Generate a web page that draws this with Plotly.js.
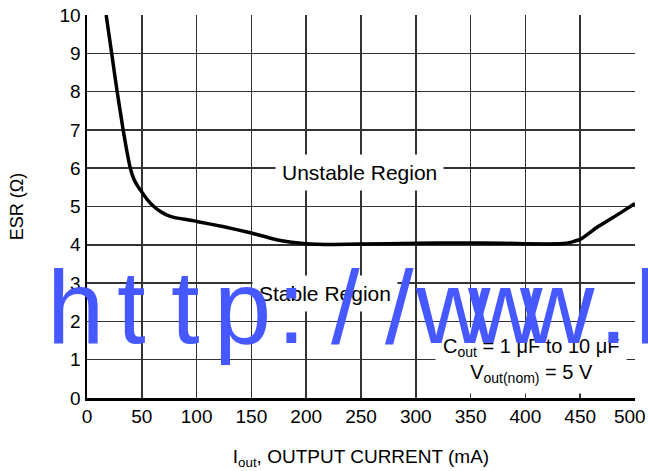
<!DOCTYPE html>
<html>
<head>
<meta charset="utf-8">
<script src="https://cdn.plot.ly/plotly-3.0.1.min.js"></script>
<style>html,body{margin:0;padding:0;background:#fff;}#chart{width:648px;height:471px;}</style>
</head>
<body>
<div id="chart"></div>
<script>
var currentMA = [17.5, 22.5, 27.5, 33, 36, 39.5, 43, 47, 50, 55, 61, 67, 72, 80, 93, 100, 125, 148, 175, 200, 225, 250, 300, 340, 380, 420, 437, 450, 465, 486, 500];
var esrOhm = [10, 9, 8, 7, 6.5, 6, 5.7, 5.5, 5.38, 5.18, 5.0, 4.87, 4.79, 4.71, 4.65, 4.61, 4.47, 4.32, 4.12, 4.03, 4.01, 4.02, 4.04, 4.05, 4.04, 4.02, 4.04, 4.14, 4.45, 4.82, 5.08];
var xTicks = [0, 50, 100, 150, 200, 250, 300, 350, 400, 450, 500];
var xTickLabels = ["0", "50", "100", "150", "200", "250", "300", "350", "400", "450", "500\u00A0\u00A0"];
var yTicks = [0, 1, 2, 3, 4, 5, 6, 7, 8, 9, 10];
var regionLabels = ["Unstable Region", "Stable Region"];
var regionX = [249, 217];
var regionY = [5.9, 2.72];
var condText = "C<sub>out</sub> = 1 \u03BCF to 10 \u03BCF<br>V<sub>out(nom)</sub> = 5 V";
var watermark = "http://www.l";

// layout: pixel centres of the watermark glyphs (page coordinates)
var wmCentersPx = [75, 131, 185, 242, 291, 345, 399, 453, 505, 557, 613, 646];
var plotLeft = 87, plotWidth = 548;

var font = "Liberation Sans, Arial, Helvetica, sans-serif";
var annotations = [];
for (var i = 0; i < regionLabels.length; i++) {
  annotations.push({x: regionX[i], y: regionY[i], xref: 'x', yref: 'y', text: regionLabels[i],
    showarrow: false, bgcolor: '#ffffff', borderpad: 6, font: {family: font, size: 21, color: '#000'}});
}
annotations.push({x: 405, y: 0.98, xref: 'x', yref: 'y', text: condText, showarrow: false,
  bgcolor: '#ffffff', borderpad: 7, font: {family: font, size: 20, color: '#000'}});
var wmChars = watermark.split('');
for (var k = 0; k < wmChars.length; k++) {
  annotations.push({x: (wmCentersPx[k] - plotLeft) / plotWidth, y: 0.235, xref: 'paper', yref: 'paper',
    xanchor: 'center', yanchor: 'middle', text: wmChars[k], showarrow: false,
    font: {family: 'Liberation Sans Narrow, Arial Narrow, Liberation Sans, sans-serif', size: 103, color: '#4658ff'}});
}

var trace = {x: currentMA, y: esrOhm, type: 'scatter', mode: 'lines',
  line: {color: '#000', width: 3.5, shape: 'spline', smoothing: 0.4}, hoverinfo: 'skip'};

var layout = {
  width: 648, height: 471,
  margin: {l: 87, r: 13, t: 15, b: 73},
  paper_bgcolor: '#fff', plot_bgcolor: '#fff',
  showlegend: false,
  font: {family: font, color: '#000'},
  xaxis: {range: [0, 500], tickvals: xTicks, ticktext: xTickLabels, showgrid: true,
    gridcolor: '#333', gridwidth: 1.5, showline: true, linecolor: '#000', linewidth: 2.5,
    zeroline: false, ticks: '', ticklabeloverflow: 'allow', tickfont: {family: font, size: 19, color: '#000'},
    title: {text: 'I<sub>out</sub>, OUTPUT CURRENT (mA)', font: {family: font, size: 19, color: '#000'}, standoff: 24}},
  yaxis: {range: [0, 10], tickvals: yTicks, ticktext: yTicks.map(String), showgrid: true,
    gridcolor: '#333', gridwidth: 1.5, showline: true, linecolor: '#000', linewidth: 2.5,
    zeroline: false, ticks: '', tickfont: {family: font, size: 19, color: '#000'},
    title: {text: 'ESR (\u03A9)', font: {family: font, size: 18, color: '#000'}, standoff: 32}},
  annotations: annotations
};
Plotly.newPlot('chart', [trace], layout, {staticPlot: true, displayModeBar: false});
</script>
</body>
</html>
